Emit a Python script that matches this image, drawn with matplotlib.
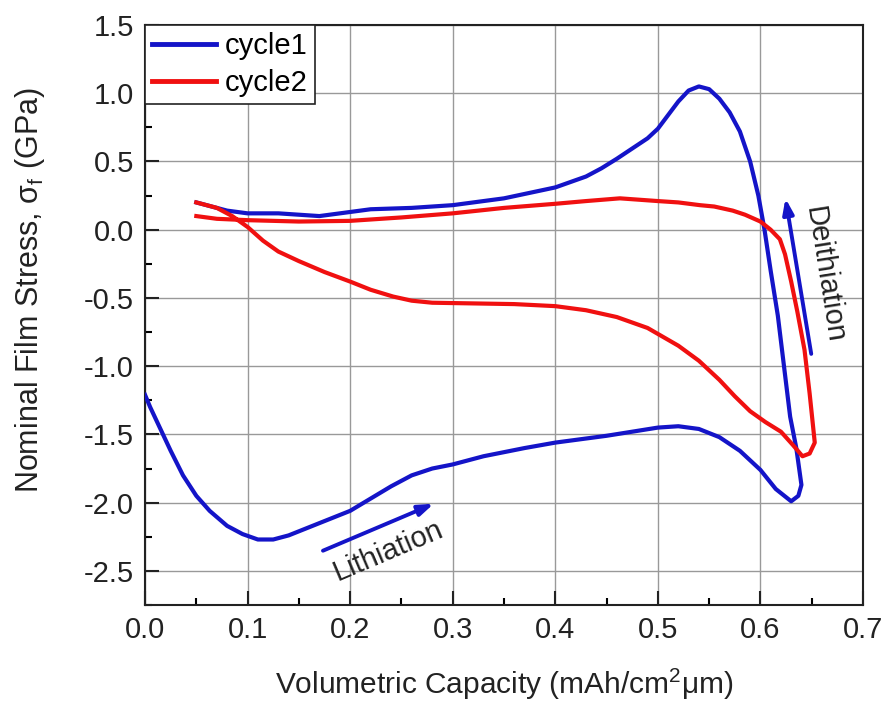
import matplotlib
matplotlib.use('Agg')
import matplotlib.pyplot as plt
from matplotlib.ticker import MultipleLocator

plt.rcParams['font.family'] = ['Liberation Sans', 'DejaVu Sans']
plt.rcParams['mathtext.fontset'] = 'custom'
plt.rcParams['mathtext.rm'] = 'Liberation Sans'
plt.rcParams['mathtext.it'] = 'Liberation Sans'

BLUE = '#1414C8'
RED = '#F01010'
INK = '#222222'

# cycle 1: lithiation (left -> right along bottom), then delithiation back along top
cap1 = [0.000, 0.005, 0.015, 0.025, 0.037, 0.050, 0.063, 0.080, 0.095, 0.110,
        0.125, 0.140, 0.160, 0.180, 0.200, 0.220, 0.240, 0.260, 0.280, 0.300,
        0.330, 0.370, 0.400, 0.450, 0.500, 0.520, 0.540, 0.560, 0.580, 0.600,
        0.615, 0.630, 0.637, 0.640, 0.635, 0.629, 0.623, 0.617, 0.610, 0.604,
        0.598, 0.590, 0.580, 0.570, 0.560, 0.550, 0.540, 0.530, 0.520, 0.510,
        0.500, 0.490, 0.476, 0.460, 0.445, 0.430, 0.400, 0.350, 0.300, 0.260,
        0.220, 0.190, 0.170, 0.150, 0.130, 0.100, 0.080, 0.060, 0.050]
stress1 = [-1.21, -1.30, -1.46, -1.62, -1.80, -1.95, -2.06, -2.17, -2.23, -2.27,
           -2.27, -2.24, -2.18, -2.12, -2.06, -1.97, -1.88, -1.80, -1.75, -1.72,
           -1.66, -1.60, -1.56, -1.51, -1.45, -1.44, -1.46, -1.52, -1.62, -1.76,
           -1.90, -1.99, -1.95, -1.87, -1.60, -1.37, -1.00, -0.63, -0.30, 0.00,
           0.25, 0.50, 0.72, 0.86, 0.96, 1.03, 1.05, 1.02, 0.94, 0.84,
           0.74, 0.67, 0.60, 0.52, 0.45, 0.39, 0.31, 0.23, 0.18, 0.16,
           0.15, 0.12, 0.10, 0.11, 0.12, 0.12, 0.14, 0.18, 0.20]

# cycle 2
cap2 = [0.050, 0.070, 0.085, 0.100, 0.115, 0.130, 0.150, 0.175, 0.200, 0.220,
        0.242, 0.260, 0.280, 0.320, 0.360, 0.400, 0.430, 0.460, 0.490, 0.520,
        0.540, 0.560, 0.575, 0.590, 0.605, 0.620, 0.632, 0.641, 0.648, 0.653,
        0.648, 0.643, 0.636, 0.630, 0.624, 0.619, 0.610, 0.600, 0.585, 0.573,
        0.555, 0.541, 0.520, 0.500, 0.463, 0.430, 0.400, 0.350, 0.300, 0.250,
        0.200, 0.150, 0.100, 0.070, 0.050]
stress2 = [0.20, 0.16, 0.10, 0.02, -0.08, -0.16, -0.23, -0.31, -0.38, -0.44,
           -0.49, -0.52, -0.535, -0.54, -0.545, -0.56, -0.59, -0.64, -0.72, -0.85,
           -0.96, -1.10, -1.22, -1.33, -1.41, -1.48, -1.58, -1.66, -1.64, -1.56,
           -1.20, -0.88, -0.60, -0.38, -0.18, -0.07, 0.00, 0.06, 0.11, 0.14,
           0.17, 0.18, 0.20, 0.21, 0.23, 0.21, 0.19, 0.16, 0.12, 0.09,
           0.065, 0.06, 0.07, 0.08, 0.10]

fig = plt.figure(figsize=(8.86, 7.03), dpi=100, facecolor='white')
ax = fig.add_axes([0.1637, 0.1394, 0.8103, 0.825])

ax.plot(cap1, stress1, color=BLUE, linewidth=3.0, label='cycle1', zorder=3,
        solid_joinstyle='round')
ax.plot(cap2, stress2, color=RED, linewidth=3.0, label='cycle2', zorder=3,
        solid_joinstyle='round')

# direction arrows
ax.annotate('', xy=(0.284, -2.0), xytext=(0.171, -2.36),
            arrowprops=dict(arrowstyle='-|>,head_length=0.9,head_width=0.32',
                            color=BLUE, lw=2.8))
ax.text(0.237, -2.35, 'Lithiation', rotation=23, fontsize=21,
        ha='center', va='center', color=INK)
ax.annotate('', xy=(0.624, 0.25), xytext=(0.650, -0.93),
            arrowprops=dict(arrowstyle='-|>,head_length=0.9,head_width=0.32',
                            color=BLUE, lw=2.8))
ax.text(0.662, -0.33, 'Deithiation', rotation=-81, fontsize=21,
        ha='center', va='center', color=INK)

ax.set_xlim(0, 0.7)
ax.set_ylim(-2.75, 1.5)
ax.xaxis.set_minor_locator(MultipleLocator(0.05))
ax.yaxis.set_minor_locator(MultipleLocator(0.25))
ax.set_xticks([0.0, 0.1, 0.2, 0.3, 0.4, 0.5, 0.6, 0.7])
ax.set_xticklabels(['0.0', '0.1', '0.2', '0.3', '0.4', '0.5', '0.6', '0.7'])
ax.set_yticks([-2.5, -2.0, -1.5, -1.0, -0.5, 0.0, 0.5, 1.0, 1.5])
ax.set_yticklabels(['-2.5', '-2.0', '-1.5', '-1.0', '-0.5', '0.0', '0.5', '1.0', '1.5'])

ax.grid(True, which='major', color='#999999', linewidth=1.0)
ax.set_axisbelow(True)
ax.tick_params(which='major', direction='in', length=10, width=1.5,
               labelsize=21, colors=INK, pad=8)
ax.tick_params(which='minor', direction='in', length=5, width=1.5)
for s in ax.spines.values():
    s.set_linewidth(1.5)
    s.set_color(INK)

ax.set_xlabel('Volumetric Capacity (mAh/cm$^2$\u03bcm)', fontsize=21.5,
              color=INK, labelpad=16)
ax.set_ylabel('Nominal Film Stress, \u03c3$_f$ (GPa)', fontsize=22,
              color=INK)
ax.yaxis.set_label_coords(-0.136, 0.543)

leg = ax.legend(loc='upper left', fontsize=21, frameon=True, fancybox=False,
                borderaxespad=0, handlelength=2.2, handletextpad=0.3,
                borderpad=0.25, labelspacing=0.3)
leg.get_frame().set_edgecolor(INK)
leg.get_frame().set_linewidth(1.2)
leg.get_frame().set_alpha(1)
for line in leg.get_lines():
    line.set_linewidth(3.5)

fig.savefig('out.png', dpi=100, facecolor='white')
